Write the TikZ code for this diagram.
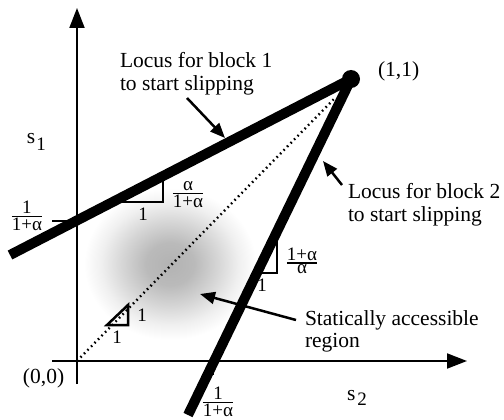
\documentclass[tikz,border=0pt]{standalone}
\usepackage{fontspec}
\setmainfont{Liberation Serif}
\usepackage{amsmath}
\usetikzlibrary{arrows.meta}
\newcommand{\myfr}[2]{\ensuremath{\genfrac{}{}{1.3pt}{1}{\mbox{#1}}{\mbox{#2}}}}
\pgfdeclareradialshading{blob}{\pgfpoint{0bp}{0bp}}{color(0bp)=(black!30); color(7bp)=(black!27); color(14bp)=(black!16); color(20bp)=(black!6); color(25bp)=(white); color(50bp)=(white)}
\begin{document}
\begin{tikzpicture}[x=1pt,y=-1pt,
  every node/.style={inner sep=0pt, outer sep=0pt},
  txt/.style={anchor=base west, font=\fontsize{21.5}{23}\selectfont},
  small/.style={anchor=center, font=\fontsize{19}{19}\selectfont},
  thickline/.style={line width=10pt, line cap=butt},
  axis/.style={line width=2pt, -{Triangle[length=20pt,width=15pt]}},
  pointer/.style={line width=2.5pt, -{Triangle[length=15pt,width=12pt]}},
  tri/.style={line width=2pt},
  tick/.style={line width=2pt}
]
\useasboundingbox (0,0) rectangle (504,420);
% shaded region
\shade[shading=blob] (170,264) ellipse (86 and 76);
% coordinates
\coordinate (O) at (77,361);
\coordinate (P) at (351,79);
\coordinate (L1end) at (10,255);
\coordinate (L2end) at (188,415);
\coordinate (Dend) at (335,98);
\coordinate (Ybot) at (77,384);
\coordinate (Ytop) at (77,8);
\coordinate (Xl) at (52,361);
\coordinate (Xr) at (467,361);
% axes
\draw[axis] (Ybot) -- (Ytop);
\draw[axis] (Xl) -- (Xr);
% ticks
\coordinate (t1a) at (52,221);
\coordinate (t1b) at (77,221);
\coordinate (t2a) at (213,361);
\coordinate (t2b) at (213,375);
\draw[tick] (t1a) -- (t1b);
\draw[tick] (t2a) -- (t2b);
% dotted diagonal
\draw[line width=2.4pt, dash pattern=on 1.6pt off 3.4pt] (O) -- (Dend);
% slope triangles
\coordinate (a1) at (120,202);
\coordinate (a2) at (163,202);
\coordinate (a3) at (163,176);
\draw[tri] (a1) -- (a2) -- (a3);
\coordinate (b1) at (255,273);
\coordinate (b2) at (277,273);
\coordinate (b3) at (277,231);
\draw[tri] (b1) -- (b2) -- (b3);
\coordinate (c1) at (107,325);
\coordinate (c2) at (128,325);
\coordinate (c3) at (128,305);
\draw[tri, line width=2.5pt, line join=miter] (c1) -- (c2) -- (c3) -- cycle;
% thick loci
\draw[thickline] (L1end) -- (P);
\draw[thickline] (L2end) -- (P);
\fill (P) circle (9);
% labels
\node[small] (one1) at (143,214) {1};
\node[small] (fr1) at (188,195) {\myfr{α}{1+α}};
\node[small] (one2) at (262,285) {1};
\node[small] (fr2) at (302,261) {\myfr{1+α}{α}};
\node[small] (one3) at (142,315) {1};
\node[small] (one4) at (117,337) {1};
\node[small] (fry) at (27,216) {\myfr{1}{1+α}};
\node[small] (frx) at (218,402) {\myfr{1}{1+α}};
\node[txt] (p11) at (378,77) {(1,1)};
\node[txt] (p00) at (23,383) {(0,0)};
\node[txt] (s1) at (27,143) {s\hspace{1pt}\raisebox{-7pt}{\fontsize{19}{19}\selectfont 1}};
\node[txt] (s2) at (347,400) {s\hspace{2pt}\raisebox{-5pt}{\fontsize{19}{19}\selectfont 2}};
\node[txt] (l1a) at (120,68) {Locus for block 1};
\node[txt] (l1b) at (120,91) {to start slipping};
\node[txt] (l2a) at (348,198) {Locus for block 2};
\node[txt] (l2b) at (348,221) {to start slipping};
\node[txt] (l3a) at (305,325) {Statically accessible};
\node[txt] (l3b) at (305,347) {region};
% pointer arrows
\coordinate (q1) at (187,98);
\coordinate (r1) at (225,138);
\coordinate (q2) at (342,185);
\coordinate (r2) at (323,161);
\coordinate (q3) at (296,320);
\coordinate (r3) at (200,294);
\draw[pointer] (q1) -- (r1);
\draw[pointer] (q2) -- (r2);
\draw[pointer] (q3) -- (r3);
\end{tikzpicture}
\end{document}
